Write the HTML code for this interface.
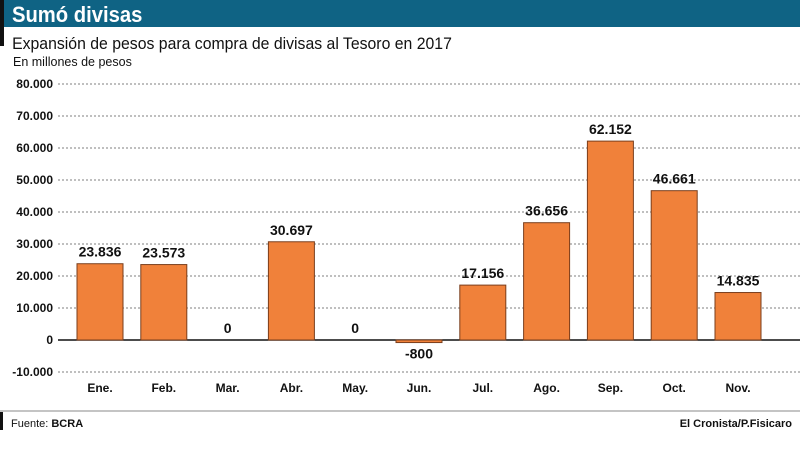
<!DOCTYPE html>
<html><head><meta charset="utf-8"><style>
body{margin:0;width:800px;height:470px;background:#fff;overflow:hidden;font-family:"Liberation Sans",sans-serif}
svg text{font-family:"Liberation Sans",sans-serif}
</style></head><body>
<svg width="800" height="470">
<rect x="0" y="0" width="800" height="27" fill="#0f6384"/>
<rect x="0" y="0" width="4" height="46" fill="#111"/>
<text x="13" y="22" font-size="22" font-weight="bold" fill="#fff" transform="scale(0.92,1)">Sumó divisas</text>
<text x="13" y="49" font-size="17" fill="#111" transform="scale(0.93,1)">Expansión de pesos para compra de divisas al Tesoro en 2017</text>
<text x="13" y="66" font-size="12.5" fill="#111">En millones de pesos</text>
<g id="grid"></g><g id="bars"></g>
<line x1="0" y1="411" x2="800" y2="411" stroke="#888" stroke-width="1"/>
<rect x="0" y="412" width="3" height="18" fill="#111"/>
<text x="11" y="427" font-size="11" fill="#111">Fuente: <tspan font-weight="bold">BCRA</tspan></text>
<text x="792" y="427" font-size="11" font-weight="bold" fill="#111" text-anchor="end">El Cronista/P.Fisicaro</text>
</svg>
<script>
const months=["Ene.","Feb.","Mar.","Abr.","May.","Jun.","Jul.","Ago.","Sep.","Oct.","Nov."];
const values=[23836,23573,0,30697,0,-800,17156,36656,62152,46661,14835];
const valueLabels=["23.836","23.573","0","30.697","0","-800","17.156","36.656","62.152","46.661","14.835"];
const ticks=[80000,70000,60000,50000,40000,30000,20000,10000,0,-10000];
const tickLabels=["80.000","70.000","60.000","50.000","40.000","30.000","20.000","10.000","0","-10.000"];
const NS="http://www.w3.org/2000/svg";
const y=v=>340-v*0.0032;
const x=i=>100+i*63.8;
const g=document.getElementById('grid'),b=document.getElementById('bars');
function mk(tag,attrs,parent){const e=document.createElementNS(NS,tag);for(const k in attrs)e.setAttribute(k,attrs[k]);parent.appendChild(e);return e;}
ticks.forEach((t,i)=>{
  const l=mk('line',{x1:58,x2:800,y1:y(t),y2:y(t),stroke:t===0?'#111':'#555','stroke-width':t===0?1.5:0.8,'stroke-dasharray':t===0?'none':'2,2'},g);
  
  
  const tx=mk('text',{x:53,y:y(t)+4,'font-size':12,'font-weight':'bold','text-anchor':'end',fill:'#111'},g);
  tx.textContent=tickLabels[i];
  
  
});
values.forEach((v,i)=>{
  const top=Math.min(y(v),y(0)),h=Math.abs(y(v)-y(0));
  if(v!==0){const r=mk('rect',{x:x(i)-23,y:top,width:46,height:h,fill:'#f0813a',stroke:'#7a3e1c','stroke-width':1},b);
  
  }
  const ly=v<0?y(v)+16:y(v)-7;
  const t=mk('text',{x:x(i),y:ly,'font-size':14,'font-weight':'bold','text-anchor':'middle',fill:'#111'},b);
  t.textContent=valueLabels[i];
  
  
  const m=mk('text',{x:x(i),y:392,'font-size':12,'font-weight':'bold','text-anchor':'middle',fill:'#111'},b);
  m.textContent=months[i];
  
  
});
</script>
</body></html>
